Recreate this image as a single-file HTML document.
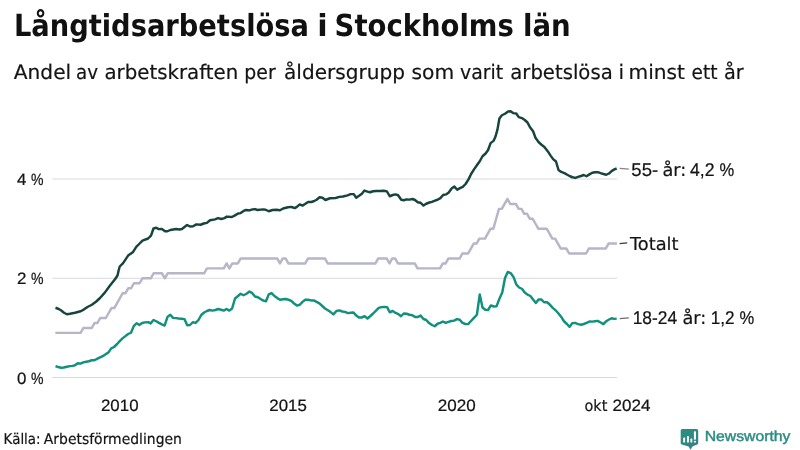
<!DOCTYPE html>
<html lang="sv">
<head>
<meta charset="utf-8">
<title>Långtidsarbetslösa i Stockholms län</title>
<style>
html,body{margin:0;padding:0;background:#fff;}
body{width:800px;height:450px;overflow:hidden;font-family:"DejaVu Sans","Liberation Sans",sans-serif;}
svg{display:block;}
text{font-family:"DejaVu Sans","Liberation Sans",sans-serif;fill:#141414;stroke:#141414;stroke-width:0.2px;text-rendering:geometricPrecision;}
.title{font-size:30.4px;font-weight:bold;fill:#111;stroke:none;}
.sub{font-size:20px;}
.tick{font-size:15.6px;}
.num{font-family:"Liberation Sans",sans-serif;font-size:16.4px;stroke-width:0.22px;}
.lab{font-size:17.8px;}
.labn{font-family:"Liberation Sans",sans-serif;font-size:18.4px;stroke-width:0.22px;}
.src{font-size:14.8px;}
.brand{font-family:"Liberation Sans",sans-serif;font-size:14.6px;fill:#2b8c82;stroke:#2b8c82;stroke-width:0.45px;}
.grid{stroke:#d8d8e1;stroke-width:1;fill:none;}
.ln{fill:none;stroke-width:2.45;stroke-linejoin:round;stroke-linecap:butt;}
</style>
</head>
<body>
<svg width="800" height="450" viewBox="0 0 800 450">
<rect width="800" height="450" fill="#ffffff"/>

<line class="grid" x1="52.4" x2="617" y1="179" y2="179"/>
<line class="grid" x1="52.4" x2="617" y1="278.25" y2="278.25"/>
<line class="grid" x1="52.4" x2="617" y1="377.5" y2="377.5"/>

<path class="ln" stroke="#b7b5c8" d="M55.33,332.86 L80.60,332.86 L83.41,327.90 L91.83,327.90 L94.64,322.94 L97.45,322.94 L100.26,317.98 L105.87,317.98 L108.68,313.02 L111.49,308.06 L114.30,308.06 L117.10,303.10 L119.91,298.14 L122.72,293.18 L125.53,293.18 L128.34,288.22 L131.14,288.22 L133.95,283.26 L139.57,283.26 L142.38,278.30 L150.80,278.30 L153.61,273.34 L162.03,273.34 L164.84,278.30 L167.65,273.34 L204.15,273.34 L206.96,268.38 L223.81,268.38 L226.62,263.42 L229.42,268.38 L232.23,263.42 L237.85,263.42 L240.66,258.46 L277.16,258.46 L279.97,263.42 L282.78,258.46 L285.58,258.46 L288.39,263.42 L305.24,263.42 L308.05,258.46 L324.90,258.46 L327.70,263.42 L375.44,263.42 L378.25,258.46 L386.67,258.46 L389.48,263.42 L392.29,258.46 L395.10,258.46 L397.90,263.42 L414.75,263.42 L417.56,268.38 L440.02,268.38 L442.83,263.42 L445.64,263.42 L448.45,258.46 L459.68,258.46 L462.49,253.50 L468.10,253.50 L470.91,248.54 L473.72,243.58 L476.53,243.58 L479.34,238.62 L484.95,238.62 L487.76,233.66 L490.57,228.70 L493.38,228.70 L496.18,218.78 L498.99,208.86 L501.80,208.86 L504.61,203.90 L507.42,198.94 L510.22,203.90 L515.84,203.90 L518.65,208.86 L521.46,208.86 L524.26,213.82 L527.07,213.82 L529.88,218.78 L532.69,218.78 L535.50,223.74 L538.30,228.70 L546.73,228.70 L549.54,233.66 L552.34,238.62 L555.15,238.62 L557.96,243.58 L560.77,248.54 L566.38,248.54 L569.19,253.50 L586.04,253.50 L588.85,248.54 L605.70,248.54 L608.50,243.58 L616.93,243.58"/>
<path class="ln" stroke="#11907d" d="M55.50,366.10 L58.10,367.00 L61.25,367.75 L63.75,367.50 L66.90,366.75 L70.00,366.10 L72.50,365.90 L75.00,365.25 L77.75,363.25 L80.60,363.60 L83.10,362.40 L86.25,361.75 L88.75,361.25 L91.90,360.25 L94.40,360.25 L97.50,358.60 L100.60,357.10 L103.10,355.90 L105.60,354.25 L108.50,352.40 L111.25,348.40 L114.00,347.00 L116.90,344.25 L119.75,341.10 L122.50,338.40 L125.40,336.10 L128.10,334.00 L131.00,332.75 L133.75,326.10 L136.50,323.25 L139.40,324.90 L142.10,323.00 L145.00,322.40 L148.10,322.10 L150.60,323.40 L153.50,320.00 L156.25,321.25 L159.00,322.90 L161.90,324.40 L164.60,325.60 L167.50,316.90 L170.25,314.75 L173.10,317.90 L176.00,318.10 L178.75,318.50 L181.60,318.75 L184.40,319.10 L187.25,325.25 L190.00,325.00 L192.75,322.25 L195.60,322.90 L198.50,320.00 L201.25,315.00 L204.10,312.50 L206.90,311.00 L209.75,310.00 L212.50,310.60 L215.40,310.00 L218.10,309.00 L221.00,309.75 L223.75,310.60 L226.50,309.00 L229.40,310.60 L232.10,308.50 L235.00,298.50 L237.75,296.25 L240.60,293.75 L243.50,295.25 L246.50,293.75 L249.40,291.60 L252.10,292.90 L255.00,296.50 L257.90,297.25 L260.60,299.00 L263.40,300.60 L266.00,301.25 L268.75,294.40 L271.60,293.10 L274.40,296.00 L277.25,298.10 L280.00,299.75 L282.90,299.25 L285.60,299.00 L288.50,299.75 L291.25,300.90 L294.10,303.50 L296.90,305.60 L299.75,304.75 L302.50,301.90 L305.25,299.75 L308.10,299.75 L311.00,300.40 L313.75,300.40 L316.60,301.90 L319.40,303.40 L322.25,306.00 L325.00,308.50 L327.90,310.25 L330.60,312.10 L333.40,314.40 L336.40,310.95 L339.40,310.40 L342.25,311.50 L345.00,311.90 L347.90,313.10 L350.60,312.75 L353.50,312.50 L356.25,315.60 L359.00,317.50 L361.60,317.50 L364.60,316.25 L367.50,318.50 L370.40,316.00 L373.10,313.50 L376.00,310.60 L378.75,307.90 L381.50,307.10 L384.40,306.90 L387.10,307.10 L389.75,312.25 L392.75,311.00 L395.60,312.90 L398.40,314.10 L401.00,316.25 L403.75,313.50 L406.60,313.75 L409.40,314.75 L412.25,315.25 L415.00,316.90 L417.90,316.90 L420.60,315.60 L423.50,319.00 L426.25,320.00 L429.10,323.10 L432.00,325.00 L434.75,326.25 L437.50,323.75 L440.25,322.90 L442.90,321.50 L445.60,322.90 L448.50,321.90 L451.25,321.00 L454.10,320.60 L456.90,319.10 L459.75,319.75 L462.50,322.90 L465.40,324.00 L468.10,324.10 L471.00,321.00 L473.75,318.10 L476.90,314.75 L479.75,294.40 L482.50,307.50 L485.30,309.75 L488.10,310.00 L490.90,305.40 L493.75,306.50 L496.50,306.40 L499.40,298.75 L502.25,292.50 L505.00,278.10 L507.75,271.90 L510.60,273.10 L513.50,276.90 L516.25,284.40 L519.10,287.50 L521.90,288.75 L524.75,292.50 L527.50,294.60 L530.40,296.00 L533.10,299.40 L535.90,302.90 L538.50,299.40 L541.25,299.40 L544.10,302.25 L547.10,302.30 L550.00,304.80 L552.75,307.80 L555.60,310.30 L558.50,313.50 L561.25,316.90 L564.00,321.25 L566.90,324.00 L569.60,326.90 L572.25,323.10 L575.00,322.90 L578.10,324.10 L581.25,324.75 L583.75,324.00 L586.60,322.90 L589.40,321.50 L592.25,321.60 L595.00,321.25 L597.75,320.90 L600.60,322.50 L603.40,324.10 L606.25,321.20 L609.00,319.50 L611.60,318.30 L614.40,318.90 L616.70,318.60"/>
<path class="ln" stroke="#17443d" d="M55.50,307.75 L58.75,309.00 L61.25,310.50 L64.00,312.75 L66.90,314.25 L70.00,313.75 L75.00,312.75 L80.60,311.25 L83.75,309.60 L87.50,307.00 L91.90,304.75 L96.25,301.50 L100.00,298.00 L105.00,292.40 L110.00,285.50 L115.00,279.25 L117.50,275.50 L118.75,270.00 L119.75,266.50 L123.10,263.10 L125.60,259.40 L128.10,255.60 L133.10,251.90 L136.25,246.90 L139.40,243.75 L142.50,240.60 L148.10,238.50 L151.00,235.60 L153.50,228.50 L156.25,227.75 L158.75,229.10 L161.90,229.00 L165.00,231.25 L167.50,231.25 L170.25,230.00 L176.25,229.00 L179.40,229.50 L181.90,229.00 L187.10,225.00 L190.00,226.50 L193.10,226.25 L196.25,224.40 L200.60,224.75 L203.75,223.50 L206.90,222.90 L210.00,220.25 L215.00,219.40 L218.10,218.10 L221.25,219.00 L224.40,218.10 L226.90,216.60 L231.90,217.00 L235.00,215.40 L238.10,213.50 L240.60,213.10 L244.40,210.40 L246.25,210.00 L249.40,210.40 L252.50,209.40 L255.00,209.10 L257.50,210.00 L263.10,209.40 L265.60,209.75 L268.75,211.25 L272.50,210.00 L276.25,209.75 L280.00,210.25 L283.10,208.50 L288.10,207.25 L291.25,206.90 L292.25,207.25 L294.75,208.10 L296.90,206.90 L299.75,204.40 L302.50,205.60 L305.00,204.00 L308.10,201.90 L311.25,202.00 L313.75,201.25 L316.60,199.75 L319.60,197.25 L322.50,197.75 L325.40,200.00 L330.00,198.25 L335.60,198.00 L339.40,196.90 L343.10,196.50 L347.50,195.40 L350.60,194.10 L353.75,194.10 L356.25,197.75 L359.40,195.60 L361.90,193.75 L364.40,190.60 L367.50,191.60 L370.00,192.25 L373.10,191.25 L376.25,191.00 L380.00,191.00 L383.75,190.75 L386.90,191.40 L389.75,196.25 L392.75,195.00 L395.60,194.40 L398.10,195.25 L401.25,199.75 L403.75,200.25 L406.50,199.40 L409.40,199.60 L412.50,199.00 L415.00,200.00 L417.75,202.25 L420.60,202.75 L423.50,205.60 L426.25,203.75 L429.40,202.50 L431.90,201.90 L435.00,200.60 L437.50,199.75 L440.40,198.10 L443.10,195.00 L446.00,194.40 L448.75,192.50 L451.60,188.50 L454.40,186.60 L457.25,189.75 L460.00,188.10 L462.75,186.90 L465.60,184.00 L468.50,179.40 L471.25,173.75 L474.00,169.40 L476.90,165.25 L479.75,161.25 L482.50,156.25 L485.60,153.50 L488.10,150.00 L490.60,143.10 L493.75,140.60 L495.60,136.25 L497.50,129.40 L499.40,118.50 L501.90,115.25 L505.00,113.75 L508.10,111.50 L510.60,111.25 L513.10,113.10 L516.25,113.50 L518.75,117.10 L521.90,118.10 L524.75,120.00 L527.50,122.50 L530.00,127.25 L533.10,131.25 L535.60,138.10 L538.75,142.25 L541.50,144.75 L544.40,146.90 L547.50,150.90 L550.60,155.60 L553.10,159.10 L556.00,161.50 L558.50,170.00 L561.25,171.90 L564.40,173.10 L567.25,174.75 L570.00,176.25 L572.50,177.25 L575.40,177.90 L578.10,176.90 L581.00,176.00 L583.75,175.00 L586.50,176.25 L589.40,174.40 L592.25,172.75 L595.00,172.25 L597.75,172.10 L600.60,173.10 L603.50,174.00 L606.25,174.75 L609.00,173.50 L611.90,170.90 L614.40,169.40 L616.70,168.50"/>

<line x1="619.7" y1="168.4" x2="628.8" y2="169.2" stroke="#858585" stroke-width="1.2"/>
<line x1="619.6" y1="243.6" x2="627.2" y2="242.8" stroke="#3c3c3c" stroke-width="1.2"/>
<line x1="619.7" y1="318.6" x2="628.8" y2="317.9" stroke="#6e6e6e" stroke-width="1.2"/>

<text class="title" y="36"><tspan x="13.9" textLength="295.07" lengthAdjust="spacingAndGlyphs">Långtidsarbetslösa</tspan> <tspan x="317.3" textLength="10.42" lengthAdjust="spacingAndGlyphs">i</tspan> <tspan x="334.59" textLength="179.31" lengthAdjust="spacingAndGlyphs">Stockholms</tspan> <tspan x="522.98" textLength="47.74" lengthAdjust="spacingAndGlyphs">län</tspan></text>
<text class="sub" y="79"><tspan x="13.8" textLength="57.34" lengthAdjust="spacingAndGlyphs">Andel</tspan> <tspan x="76.09" textLength="22.0" lengthAdjust="spacingAndGlyphs">av</tspan> <tspan x="104.51" textLength="133.79" lengthAdjust="spacingAndGlyphs">arbetskraften</tspan> <tspan x="244.36" textLength="31.36" lengthAdjust="spacingAndGlyphs">per</tspan> <tspan x="284.0" textLength="120.96" lengthAdjust="spacingAndGlyphs">åldersgrupp</tspan> <tspan x="411.49" textLength="42.67" lengthAdjust="spacingAndGlyphs">som</tspan> <tspan x="460.0" textLength="43.18" lengthAdjust="spacingAndGlyphs">varit</tspan> <tspan x="510.27" textLength="102.43" lengthAdjust="spacingAndGlyphs">arbetslösa</tspan> <tspan x="618.5" textLength="5.56" lengthAdjust="spacingAndGlyphs">i</tspan> <tspan x="628.48" textLength="56.5" lengthAdjust="spacingAndGlyphs">minst</tspan> <tspan x="691.57" textLength="25.93" lengthAdjust="spacingAndGlyphs">ett</tspan> <tspan x="724.04" textLength="19.72" lengthAdjust="spacingAndGlyphs">år</tspan></text>
<text class="num" y="185"><tspan x="17.1" textLength="9.4" lengthAdjust="spacingAndGlyphs">4</tspan> <tspan x="31.0" textLength="12.5" lengthAdjust="spacingAndGlyphs">%</tspan></text>
<text class="num" y="284"><tspan x="17.1" textLength="9.4" lengthAdjust="spacingAndGlyphs">2</tspan> <tspan x="31.0" textLength="12.5" lengthAdjust="spacingAndGlyphs">%</tspan></text>
<text class="num" y="384"><tspan x="17.1" textLength="9.4" lengthAdjust="spacingAndGlyphs">0</tspan> <tspan x="31.0" textLength="12.5" lengthAdjust="spacingAndGlyphs">%</tspan></text>
<text class="num" x="100.97" y="411" textLength="37.61" lengthAdjust="spacingAndGlyphs">2010</text>
<text class="num" x="269.37" y="411" textLength="37.51" lengthAdjust="spacingAndGlyphs">2015</text>
<text class="num" x="437.76" y="411" textLength="37.93" lengthAdjust="spacingAndGlyphs">2020</text>
<text y="411"><tspan class="tick" x="584.48" textLength="22.84" lengthAdjust="spacingAndGlyphs">okt</tspan> <tspan class="num" x="612.46" textLength="37.93" lengthAdjust="spacingAndGlyphs">2024</tspan></text>
<text y="176"><tspan class="labn" x="631.39" textLength="26.81" lengthAdjust="spacingAndGlyphs">55-</tspan> <tspan class="lab" x="662.5" textLength="23.78" lengthAdjust="spacingAndGlyphs">år:</tspan> <tspan class="labn" x="690.0" textLength="24.56" lengthAdjust="spacingAndGlyphs">4,2</tspan> <tspan class="labn" x="719.6" textLength="14.72" lengthAdjust="spacingAndGlyphs">%</tspan></text>
<text class="lab" x="630.0" y="250" textLength="48.5" lengthAdjust="spacingAndGlyphs">Totalt</text>
<text y="324"><tspan class="labn" x="632.66" textLength="44.39" lengthAdjust="spacingAndGlyphs">18-24</tspan> <tspan class="lab" x="682.5" textLength="23.78" lengthAdjust="spacingAndGlyphs">år:</tspan> <tspan class="labn" x="710.67" textLength="23.87" lengthAdjust="spacingAndGlyphs">1,2</tspan> <tspan class="labn" x="739.6" textLength="14.72" lengthAdjust="spacingAndGlyphs">%</tspan></text>
<text class="src" y="444"><tspan x="3.59" textLength="37.04" lengthAdjust="spacingAndGlyphs">Källa:</tspan> <tspan x="43.8" textLength="138.15" lengthAdjust="spacingAndGlyphs">Arbetsförmedlingen</tspan></text>
<text class="brand" x="704.67" y="441" textLength="85.77" lengthAdjust="spacingAndGlyphs">Newsworthy</text>

<g>
<defs><linearGradient id="lg" x1="0" y1="0" x2="1" y2="1"><stop offset="0" stop-color="#2a8f82"/><stop offset="0.55" stop-color="#2d8a83"/><stop offset="1" stop-color="#41778f"/></linearGradient></defs>
<path fill="url(#lg)" d="M682.3,428.9 H696.6 Q698.2,428.9 698.2,430.5 V443.2 Q698.2,444.2 697.2,444.6 L692.4,446.6 L690.6,449.8 L688.6,446.6 L681.8,444.6 Q680.7,444.2 680.7,443.2 V430.5 Q680.7,428.9 682.3,428.9 Z"/>
<rect x="683.2" y="437.6" width="1.9" height="5" rx="0.6" fill="#fff"/>
<rect x="687" y="436" width="1.9" height="6.6" rx="0.6" fill="#fff"/>
<rect x="690.4" y="438.6" width="1.9" height="4" rx="0.6" fill="#fff"/>
<rect x="693.9" y="431.3" width="2.1" height="8.5" rx="0.7" fill="#fff"/>
<rect x="693.9" y="440.7" width="2.1" height="1.9" rx="0.7" fill="#fff"/>
</g>
</svg>
</body>
</html>
